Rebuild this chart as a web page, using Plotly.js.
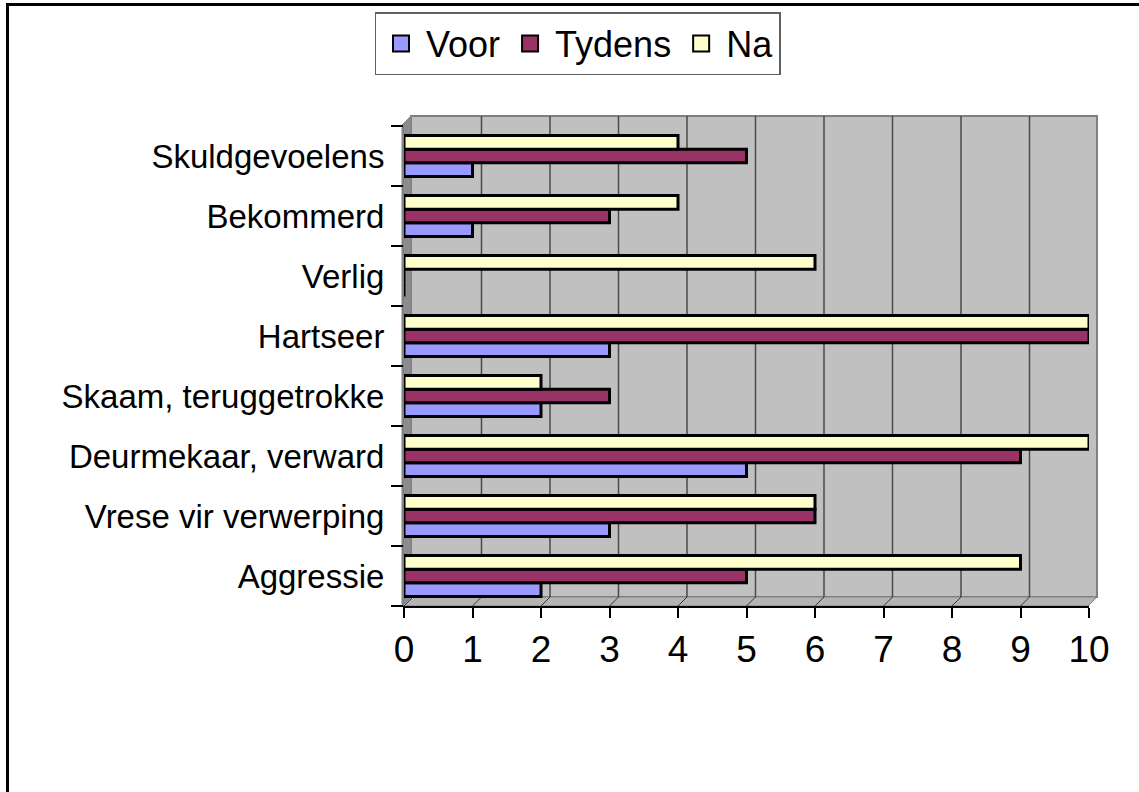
<!DOCTYPE html>
<html>
<head>
<meta charset="utf-8">
<script src="https://cdn.plot.ly/plotly-3.0.1.min.js"></script>
<style>
html,body{margin:0;padding:0;background:#fff;}
#chart{width:1139px;height:792px;}
</style>
</head>
<body>
<div id="chart"></div>
<script>
// Categories listed bottom-to-top (Plotly draws the first category at the bottom)
const categories = ["Aggressie", "Vrese vir verwerping", "Deurmekaar, verward", "Skaam, teruggetrokke", "Hartseer", "Verlig", "Bekommerd", "Skuldgevoelens"];
const voor   = [2, 3, 5, 2, 3, 0, 1, 1];
const tydens = [5, 6, 9, 3, 10, 0, 3, 5];
const na     = [9, 6, 10, 2, 10, 6, 4, 4];
const seriesNames = ["Voor", "Tydens", "Na"];
const xTicks = [0, 1, 2, 3, 4, 5, 6, 7, 8, 9, 10];
const xTickLabels = ["0", "1", "2", "3", "4", "5", "6", "7", "8", "9", "10"];

const W = 1139, H = 792;
const L = 404, R = 1089, T = 126, B = 606;
const px = x => (x - L) / (R - L);
const py = y => (B - y) / (B - T);
const DX = 9, DY = 10; // 3D depth offset in pixels

const FONT = '"Liberation Sans", Arial, sans-serif';
const colors = ["#9999FF", "#993366", "#FFFFCC"];

const traces = [voor, tydens, na].map((vals, i) => ({
  type: 'bar',
  orientation: 'h',
  name: seriesNames[i],
  y: categories,
  x: vals,
  showlegend: false,
  legendgroup: seriesNames[i],
  marker: {color: colors[i], line: {color: '#000000', width: 3}},
  hoverinfo: 'x+y+name'
}));
// legend keys (square swatches like the original)
seriesNames.forEach((n, i) => traces.push({
  type: 'scatter', mode: 'markers', name: n, legendgroup: n,
  x: [null], y: [null], hoverinfo: 'skip',
  marker: {symbol: 'square', size: 19, color: colors[i], line: {color: '#000000', width: 2}}
}));

const shapes = [];
// back wall
shapes.push({type: 'rect', xref: 'paper', yref: 'paper', layer: 'below',
  x0: px(L - 2 + DX), x1: px(1097), y0: py(B - DY + 1), y1: py(116),
  fillcolor: '#C0C0C0', line: {color: '#808080', width: 2}});
// left side wall
shapes.push({type: 'path', xref: 'paper', yref: 'paper', layer: 'below',
  path: `M ${px(402)},${py(606)} L ${px(402)},${py(125)} L ${px(411)},${py(116)} L ${px(411)},${py(597)} Z`,
  fillcolor: '#8C8C8C', line: {color: '#808080', width: 1}});
// floor
shapes.push({type: 'path', xref: 'paper', yref: 'paper', layer: 'below',
  path: `M ${px(402)},${py(606)} L ${px(411)},${py(597)} L ${px(1097)},${py(597)} L ${px(1088)},${py(606)} Z`,
  fillcolor: '#B4B4B4', line: {color: '#808080', width: 1}});
// gridlines on the back wall + floor diagonals
xTicks.forEach(v => {
  if (v > 0) {
    shapes.push({type: 'line', xref: 'x', yref: 'paper', layer: 'below',
      xsizemode: 'pixel', xanchor: v, x0: DX, x1: DX,
      y0: py(597), y1: py(116), line: {color: '#4A4A4A', width: 1.5}});
  }
  shapes.push({type: 'line', xref: 'x', yref: 'paper', layer: 'below',
    xsizemode: 'pixel', xanchor: v, x0: 0, x1: DX,
    y0: py(606), y1: py(597), line: {color: '#333333', width: 1}});
});
// outer chart border (top and left visible)
shapes.push({type: 'rect', xref: 'paper', yref: 'paper', layer: 'above',
  x0: px(7.5), x1: px(W + 20), y0: py(H + 20), y1: py(4.5),
  line: {color: '#000000', width: 3}, fillcolor: 'rgba(0,0,0,0)'});

const layout = {
  width: W, height: H,
  margin: {l: L, r: W - R, t: T, b: H - B, pad: 0},
  paper_bgcolor: '#FFFFFF',
  plot_bgcolor: 'rgba(0,0,0,0)',
  font: {family: FONT, color: '#000000'},
  barmode: 'group',
  bargap: 0.32,
  bargroupgap: 0,
  showlegend: true,
  legend: {
    orientation: 'h',
    x: px(577.5), xanchor: 'center',
    y: py(12), yanchor: 'top',
    bgcolor: '#FFFFFF', bordercolor: '#606060', borderwidth: 1.5,
    font: {family: FONT, size: 36, color: '#000000'},
    traceorder: 'normal',
    itemwidth: 40,
    tracegroupgap: 0
  },
  xaxis: {
    range: [0, 10],
    tickmode: 'array', tickvals: xTicks, ticktext: xTickLabels,
    showgrid: false, zeroline: false,
    showline: true, linecolor: '#000000', linewidth: 2,
    ticks: 'outside', ticklen: 10, tickcolor: '#000000', tickwidth: 1.5,
    tickfont: {family: FONT, size: 37, color: '#000000'},
    fixedrange: true
  },
  yaxis: {
    type: 'category',
    categoryorder: 'array', categoryarray: categories,
    range: [-0.5, categories.length - 0.5],
    showgrid: false, zeroline: false,
    showline: true, linecolor: '#808080', linewidth: 1,
    ticks: 'outside', tickson: 'boundaries', ticklen: 12, tickcolor: '#000000', tickwidth: 1.5,
    ticklabelstandoff: 12,
    tickfont: {family: FONT, size: 33, color: '#000000'},
    fixedrange: true
  },
  shapes: shapes
};

Plotly.newPlot('chart', traces, layout, {displayModeBar: false, responsive: false});
</script>
</body>
</html>
